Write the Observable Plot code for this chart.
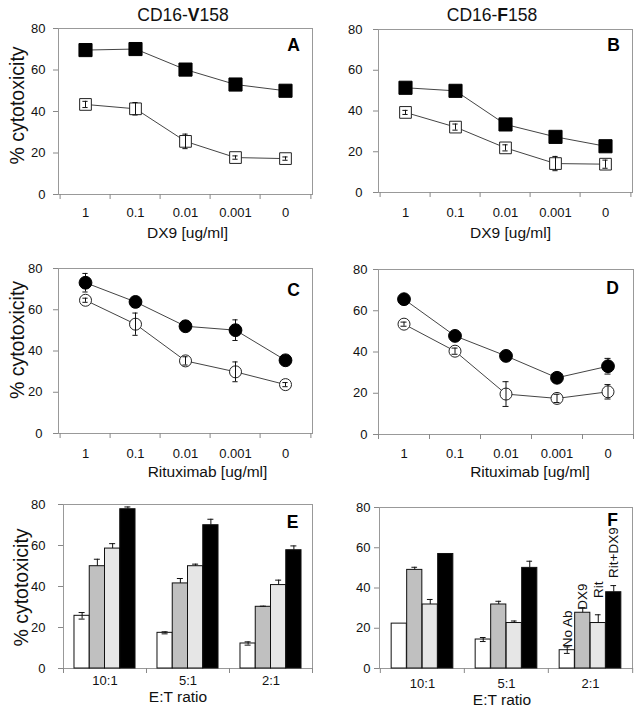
<!DOCTYPE html>
<html><head><meta charset="utf-8">
<script src="https://cdn.jsdelivr.net/npm/d3@7"></script>
<script src="https://cdn.jsdelivr.net/npm/@observablehq/plot@0.6"></script>
<style>
html,body{margin:0;padding:0;background:#fff;}
#fig{position:relative;width:643px;height:716px;overflow:hidden;font-family:"Liberation Sans",Arial,sans-serif;color:#111;background:#fff;}
.panel{position:absolute;}
.coltitle{position:absolute;font-size:17.5px;transform:translate(-50%,-50%);white-space:nowrap;}
</style></head><body><div id="fig"></div>
<script>
// ---- categories / ticks ----
const doses = ["1","0.1","0.01","0.001","0"];
const ratios = ["10:1","5:1","2:1"];
const treatments = ["No Ab","DX9","Rit","Rit+DX9"];
const yTicks = [0,20,40,60,80];
const colTitles = [["CD16-","V","158"],["CD16-","F","158"]];

// ---- Panel A : CD16-V158, DX9 titration ----
const aFilled = [69.6,70.1,60.2,53.0,50.0];
const aFilledErr = [0.5,0.5,0.5,0.5,0.5];
const aOpen = [43.4,41.3,25.6,17.8,17.3];
const aOpenErr = [1.5,3.0,3.5,0.8,0.8];
// ---- Panel B : CD16-F158, DX9 titration ----
const bFilled = [51.4,49.9,33.4,27.3,22.7];
const bFilledErr = [0.5,1.5,0.5,0.5,0.5];
const bOpen = [39.3,32.1,21.9,14.2,13.9];
const bOpenErr = [1.0,1.5,1.5,3.5,2.0];
// ---- Panel C : CD16-V158, Rituximab titration ----
const cFilled = [73.1,63.8,52.0,50.1,35.5];
const cFilledErr = [4.5,1.0,1.0,5.0,1.0];
const cOpen = [64.6,53.0,35.2,29.9,23.7];
const cOpenErr = [1.0,5.4,2.0,4.8,1.0];
// ---- Panel D : CD16-F158, Rituximab titration ----
const dFilled = [65.6,47.8,38.1,27.5,33.1];
const dFilledErr = [1.0,1.0,1.0,1.0,3.8];
const dOpen = [53.5,40.4,19.6,17.5,20.7];
const dOpenErr = [1.0,1.5,6.0,2.0,3.5];
// ---- Panel E : CD16-V158 bars (No Ab, DX9, Rit, Rit+DX9) per E:T ratio ----
const eNoAb = [25.7,17.4,12.2], eNoAbErr = [1.6,0.5,0.8];
const eDX9 = [49.9,41.5,30.1], eDX9Err = [3.4,2.4,0.3];
const eRit = [58.5,49.9,40.7], eRitErr = [2.4,1.0,2.4];
const eRitDX9 = [77.7,69.9,57.7], eRitDX9Err = [1.1,2.9,2.1];
// ---- Panel F : CD16-F158 bars ----
const fNoAb = [22.3,14.4,9.1], fNoAbErr = [0,1.0,1.6];
const fDX9 = [49.0,31.8,27.7], fDX9Err = [1.3,1.6,2.5];
const fRit = [31.8,22.6,22.6], fRitErr = [2.5,1.0,4.1];
const fRitDX9 = [56.9,50.0,37.9], fRitDX9Err = [0,3.3,3.3];
// rotated legend labels in panel F (at 2:1), y position in % units
const fLabelRatio = "2:1";
const fLabelY = [10.6,29.2,35.0,45.0];

const barFills = ["#ffffff","#c0c0c0","#e6e6e6","#000000"];
const FONT = '"Liberation Sans", Arial, sans-serif';
const fig = document.getElementById("fig");

function place(svg, left, top) {
  svg.classList.add("panel");
  svg.style.left = left + "px";
  svg.style.top = top + "px";
  fig.appendChild(svg);
}

function baseMarks(c, cats, bw) {
  const m = [
    Plot.frame({stroke: "#999"}),
    Plot.axisY({ticks: yTicks, tickSize: 5, tickPadding: c.ytp, stroke: "#888", fill: "#111", fontSize: 13, label: null}),
    Plot.axisX({tickSize: 0, tickPadding: c.xtp, fill: "#111", fontSize: 13, label: null}),
    Plot.ruleX(cats, {x: d => d, y1: 0, y2: 0, dx: -bw / 2, insetBottom: -5, stroke: "#888"}),
    Plot.ruleX(cats.slice(-1), {x: d => d, y1: 0, y2: 0, dx: bw / 2, insetBottom: -5, stroke: "#888"}),
    Plot.text([c.letter], {frameAnchor: "top-right", dx: c.ldx, dy: c.ldy, fontWeight: "bold", fontSize: 17.5, textAnchor: "middle", lineAnchor: "middle", fill: "#000"}),
    Plot.text([c.xLabel], {frameAnchor: "bottom", dx: c.xlDx, dy: c.xlDy, fontSize: 15.5, lineAnchor: "middle", fill: "#111"})
  ];
  if (c.yLabel) m.push(Plot.text(["% cytotoxicity"], {frameAnchor: "left", rotate: -90, dx: c.ylDx, dy: c.ylDy, fontSize: 19.5, textAnchor: "middle", lineAnchor: "middle", fill: "#111"}));
  return m;
}

function linePanel(c) {
  const iw = c.width - c.ml - c.mr;
  const bw = iw / doses.length;
  const filled = doses.map((d, i) => ({dose: d, v: c.filled[i], e: c.filledErr[i]}));
  const open = doses.map((d, i) => ({dose: d, v: c.open[i], e: c.openErr[i]}));
  const cap = 3;
  const capOpt = {insetLeft: bw / 2 - cap, insetRight: bw / 2 - cap, stroke: "#111", strokeWidth: 1};
  const errMarks = (rows) => [
    Plot.ruleX(rows, {x: "dose", y1: d => d.v - d.e, y2: d => d.v + d.e, stroke: "#111", strokeWidth: 1}),
    Plot.tickY(rows, {x: "dose", y: d => d.v + d.e, ...capOpt}),
    Plot.tickY(rows, {x: "dose", y: d => d.v - d.e, ...capOpt})
  ];
  const svg = Plot.plot({
    width: c.width, height: c.height,
    marginLeft: c.ml, marginRight: c.mr, marginTop: c.mt, marginBottom: c.mb,
    style: {fontFamily: FONT, fontSize: "13px", background: "transparent", color: "#111", overflow: "visible"},
    x: {type: "band", domain: doses, padding: 0},
    y: {domain: [0, 80]},
    marks: [
      ...baseMarks(c, doses, bw),
      Plot.line(filled, {x: "dose", y: "v", stroke: "#444", strokeWidth: 1}),
      Plot.line(open, {x: "dose", y: "v", stroke: "#444", strokeWidth: 1}),
      Plot.dot(open, {x: "dose", y: "v", symbol: c.symbol, r: c.rOpen, fill: "#fff", stroke: "#222", strokeWidth: 1}),
      ...errMarks(open),
      ...errMarks(filled),
      Plot.dot(filled, {x: "dose", y: "v", symbol: c.symbol, r: c.rFilled, fill: "#000", stroke: "#000", strokeWidth: 1})
    ]
  });
  place(svg, c.left, c.top);
}

function barPanel(c) {
  const iw = c.width - c.ml - c.mr;
  const bw = iw / ratios.length;
  const po = 0.72;
  const barW = bw / (treatments.length + 2 * po);
  const pad = po * barW;
  const cap = 3;
  const marks = [...baseMarks(c, ratios, bw)];
  treatments.forEach((t, ti) => {
    const rows = ratios.map((r, ri) => ({ratio: r, v: c.values[ti][ri], e: c.errs[ti][ri]}));
    const left = pad + ti * barW;
    const right = bw - pad - (ti + 1) * barW;
    const off = left + barW / 2 - bw / 2;
    const withErr = rows.filter(d => d.e > 0);
    const lo = d => ti === 0 ? d.v - d.e : d.v;
    marks.push(Plot.barY(rows, {x: "ratio", y: "v", fill: barFills[ti], stroke: "#111", strokeWidth: 1, insetLeft: left, insetRight: right}));
    marks.push(Plot.ruleX(withErr, {x: "ratio", y1: lo, y2: d => d.v + d.e, dx: off, stroke: "#111", strokeWidth: 1}));
    marks.push(Plot.tickY(withErr, {x: "ratio", y: d => d.v + d.e, insetLeft: left + barW / 2 - cap, insetRight: right + barW / 2 - cap, stroke: "#111"}));
    if (ti === 0) marks.push(Plot.tickY(withErr, {x: "ratio", y: lo, insetLeft: left + barW / 2 - cap, insetRight: right + barW / 2 - cap, stroke: "#111"}));
    if (c.labels) {
      marks.push(Plot.text([{ratio: fLabelRatio, y: c.labelY[ti], t}], {x: "ratio", y: "y", text: "t", dx: off, rotate: -90, textAnchor: "start", lineAnchor: "middle", fontSize: 13.5, fill: "#111"}));
    }
  });
  const svg = Plot.plot({
    width: c.width, height: c.height,
    marginLeft: c.ml, marginRight: c.mr, marginTop: c.mt, marginBottom: c.mb,
    style: {fontFamily: FONT, fontSize: "13px", background: "transparent", color: "#111", overflow: "visible"},
    x: {type: "band", domain: ratios, padding: 0},
    y: {domain: [0, 80]},
    marks
  });
  place(svg, c.left, c.top);
}

// column titles
[[183, 15], [492, 15]].forEach(([x, y], i) => {
  const d = document.createElement("div");
  d.className = "coltitle";
  d.style.left = x + "px"; d.style.top = y + "px";
  const [a, b, c] = colTitles[i];
  d.innerHTML = `${a}<b>${b}</b>${c}`;
  fig.appendChild(d);
});

linePanel({left: 0, top: 0, width: 320, height: 245, ml: 58, mr: 8, mt: 28, mb: 51,
  filled: aFilled, filledErr: aFilledErr, open: aOpen, openErr: aOpenErr, symbol: "square", rFilled: 7.4, rOpen: 6.6,
  letter: "A", ldx: -19, ldy: 17, xLabel: "DX9 [ug/ml]", xlDx: 2, xlDy: 39, ytp: 8, xtp: 13.5,
  yLabel: true, ylDx: -41, ylDy: -6});
linePanel({left: 320, top: 0, width: 323, height: 245, ml: 58, mr: 11, mt: 29, mb: 53,
  filled: bFilled, filledErr: bFilledErr, open: bOpen, openErr: bOpenErr, symbol: "square", rFilled: 7.4, rOpen: 6.6,
  letter: "B", ldx: -19, ldy: 16, xLabel: "DX9 [ug/ml]", xlDx: 5, xlDy: 41, ytp: 11, xtp: 15.5, yLabel: false});
linePanel({left: 0, top: 235, width: 320, height: 250, ml: 58, mr: 8, mt: 33, mb: 52,
  filled: cFilled, filledErr: cFilledErr, open: cOpen, openErr: cOpenErr, symbol: "circle", rFilled: 6.4, rOpen: 6,
  letter: "C", ldx: -19, ldy: 22, xLabel: "Rituximab [ug/ml]", xlDx: 22, xlDy: 39, ytp: 11, xtp: 15.5,
  yLabel: true, ylDx: -41, ylDy: -11});
linePanel({left: 320, top: 235, width: 323, height: 250, ml: 58, mr: 10, mt: 34, mb: 51,
  filled: dFilled, filledErr: dFilledErr, open: dOpen, openErr: dOpenErr, symbol: "circle", rFilled: 6.4, rOpen: 6,
  letter: "D", ldx: -21, ldy: 19, xLabel: "Rituximab [ug/ml]", xlDx: 24, xlDy: 38, ytp: 6, xtp: 14.5, yLabel: false});
barPanel({left: 0, top: 485, width: 320, height: 231, ml: 63, mr: 8, mt: 19, mb: 48,
  values: [eNoAb, eDX9, eRit, eRitDX9], errs: [eNoAbErr, eDX9Err, eRitErr, eRitDX9Err],
  letter: "E", ldx: -20, ldy: 18, xLabel: "E:T ratio", xlDx: -10, xlDy: 29, ytp: 13, xtp: 7.5,
  yLabel: true, ylDx: -42, ylDy: 1});
barPanel({left: 320, top: 485, width: 323, height: 231, ml: 59, mr: 11, mt: 22, mb: 48,
  values: [fNoAb, fDX9, fRit, fRitDX9], errs: [fNoAbErr, fDX9Err, fRitErr, fRitDX9Err],
  letter: "F", ldx: -20, ldy: 13, xLabel: "E:T ratio", xlDx: -4, xlDy: 32, ytp: 4, xtp: 10.5, yLabel: false,
  labels: true, labelY: fLabelY});
</script></body></html>
